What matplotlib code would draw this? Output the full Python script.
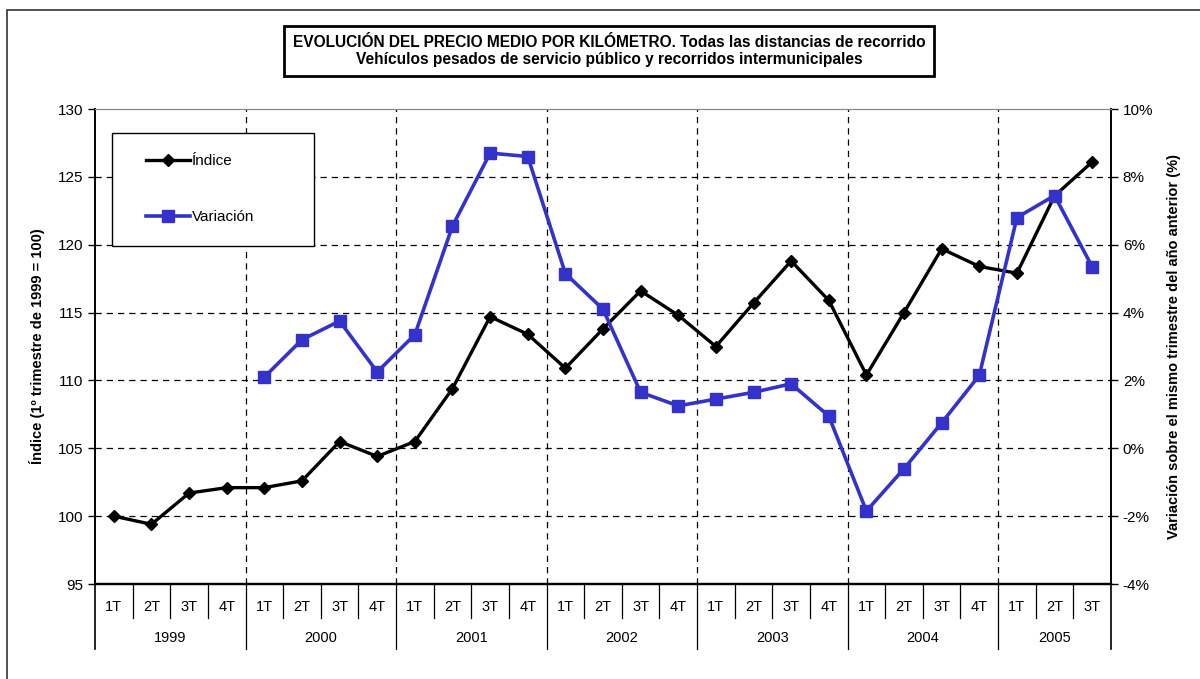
import numpy as np
import matplotlib.pyplot as plt
from matplotlib.transforms import blended_transform_factory
from matplotlib.lines import Line2D

plt.rcParams['font.family'] = ['Liberation Sans', 'DejaVu Sans']

# Datos
anios = ['1999', '2000', '2001', '2002', '2003', '2004', '2005']
trimestres = ['1T', '2T', '3T', '4T'] * 6 + ['1T', '2T', '3T']
indice = [100.0, 99.4, 101.7, 102.1,
          102.1, 102.6, 105.5, 104.4,
          105.5, 109.4, 114.7, 113.4,
          110.9, 113.8, 116.6, 114.8,
          112.5, 115.7, 118.8, 115.9,
          110.4, 115.0, 119.7, 118.4,
          117.9, 123.6, 126.1]
variacion = [np.nan, np.nan, np.nan, np.nan,
             2.1, 3.2, 3.75, 2.25,
             3.35, 6.55, 8.7, 8.6,
             5.15, 4.1, 1.65, 1.25,
             1.45, 1.65, 1.9, 0.95,
             -1.85, -0.6, 0.75, 2.15,
             6.8, 7.45, 5.35]

azul = '#3333cc'
x = np.arange(len(indice))

fig = plt.figure(figsize=(12, 6.79), dpi=100)
W, H = 1200, 679
ax = fig.add_axes([95 / W, (H - 584) / H, 1016 / W, 475 / H])
ax2 = ax.twinx()

# Índice (eje izquierdo)
ax.plot(x, indice, color='black', lw=2.4, marker='D', ms=6.5, zorder=3)
ax.set_xlim(-0.5, len(x) - 0.5)
ax.set_ylim(95, 130)
ax.set_yticks(np.arange(95, 131, 5))
ax.set_xticks([])
ax.tick_params(axis='y', labelsize=11, direction='out', length=5, width=1)
ax.set_ylabel('Índice (1º trimestre de 1999 = 100)', fontsize=10.5,
              fontweight='bold', labelpad=9)

# Variación (eje derecho)
ax2.plot(x, variacion, color=azul, lw=2.6, marker='s', ms=8, zorder=3)
ax2.set_ylim(-4, 10)
ax2.set_yticks(np.arange(-4, 11, 2))
ax2.set_yticklabels([f'{v}%' for v in range(-4, 11, 2)])
ax2.tick_params(axis='y', labelsize=11, direction='out', length=5, width=1)
ax2.set_ylabel('Variación sobre el mismo trimestre del año anterior (%)',
               fontsize=10.5, fontweight='bold', labelpad=10)

# Rejilla
for v in range(100, 130, 5):
    ax.axhline(v, color='black', lw=0.9, ls=(0, (5, 4)), zorder=1)
for b in range(4, len(x), 4):
    ax.axvline(b - 0.5, color='black', lw=0.9, ls=(0, (5, 4)), zorder=1)

for a in (ax, ax2):
    a.spines['top'].set_color('#888888')
    a.spines['left'].set_linewidth(1.2)
    a.spines['right'].set_linewidth(1.2)
    a.spines['bottom'].set_linewidth(1.6)

# Eje de categorías en dos niveles
tr = blended_transform_factory(ax.transData, ax.transAxes)
q_bot = -34 / 475
y_bot = -65 / 475
for i, t in enumerate(trimestres):
    ax.text(i, -23 / 475, t, transform=tr, ha='center', va='center', fontsize=10.5)
for b in range(1, len(x)):
    bottom = y_bot if b % 4 == 0 else q_bot
    ax.add_line(Line2D([b - 0.5, b - 0.5], [0, bottom], transform=tr,
                       color='black', lw=0.9, clip_on=False))
for edge in (-0.5, len(x) - 0.5):
    ax.add_line(Line2D([edge, edge], [0, y_bot], transform=tr,
                       color='black', lw=1.2, clip_on=False))
for k, an in enumerate(anios):
    start = 4 * k
    end = min(4 * k + 3, len(x) - 1)
    ax.text((start + end) / 2, -54 / 475, an, transform=tr, ha='center',
            va='center', fontsize=10.5)

# Leyenda: recuadro y entradas
ax2.add_patch(plt.Rectangle((17 / 1016, 1 - 137 / 475), 202 / 1016, 113 / 475,
                            transform=ax2.transAxes, fc='white', ec='black',
                            lw=1.0, zorder=4))
leg = ax2.legend([Line2D([], [], color='black', lw=2.4, marker='D', ms=6.5),
                  Line2D([], [], color=azul, lw=2.6, marker='s', ms=8)],
                 ['Índice', 'Variación'], loc='upper left',
                 bbox_to_anchor=(51 / 1016, 1 - 45 / 475), fontsize=11,
                 frameon=False, borderpad=0, labelspacing=2.75,
                 handlelength=2.9, handletextpad=0.1, borderaxespad=0)
leg.set_zorder(5)

# Título en recuadro
fig.text(609 / W, 1 - 51 / H,
         'EVOLUCIÓN DEL PRECIO MEDIO POR KILÓMETRO. Todas las distancias de recorrido\n'
         'Vehículos pesados de servicio público y recorridos intermunicipales',
         ha='center', va='center', fontsize=11.2, fontweight='bold',
         linespacing=1.2,
         bbox=dict(boxstyle='square,pad=0.55', fc='white', ec='black', lw=2))

# Marco exterior
fig.add_artist(plt.Rectangle((7 / W, -0.05), 1.1, 1 - 10 / H + 0.05,
                             transform=fig.transFigure, fill=False,
                             ec='#333333', lw=1.2))

fig.savefig('out.png', dpi=100)
